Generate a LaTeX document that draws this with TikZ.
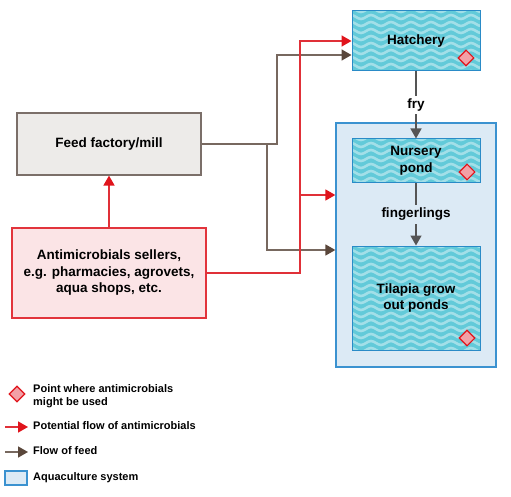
\documentclass[tikz,border=0pt]{standalone}
\usepackage{fontspec}
\setmainfont{Liberation Sans}
\usetikzlibrary{arrows.meta,shapes.geometric}

\definecolor{feedfill}{HTML}{EDEBE9}
\definecolor{feedline}{HTML}{7B6F69}
\definecolor{sellfill}{HTML}{FBE4E6}
\definecolor{sellline}{HTML}{E2343C}
\definecolor{aquafill}{HTML}{DCEAF5}
\definecolor{aqualine}{HTML}{3B92D0}
\definecolor{pondfill}{HTML}{62CAD9}
\definecolor{wavecol}{HTML}{A2DFE8}
\definecolor{pondline}{HTML}{2A8BC7}
\definecolor{amred}{HTML}{E0141C}
\definecolor{amline}{HTML}{E03038}
\definecolor{feedbrown}{HTML}{77685F}
\definecolor{feedhead}{HTML}{5A473B}
\definecolor{stagegray}{HTML}{555555}
\definecolor{markfill}{HTML}{F2A0A6}

\begin{document}
\begin{tikzpicture}[x=1pt,y=-1pt,font=\bfseries\fontsize{13.5}{16.5}\selectfont,
    pond/.style={draw=pondline,line width=1pt,fill=pondfill,align=center,
      minimum width=128pt,inner sep=0pt,
      path picture={
        \foreach \k in {0,...,16}
          \draw[wavecol,line width=2.6pt]
            ([xshift=-6pt,yshift=-\k*7pt+1pt]path picture bounding box.north west)
            \foreach \i in {1,...,8}{ sin ++(5pt,2pt) cos ++(5pt,-2pt) sin ++(5pt,-2pt) cos ++(5pt,2pt) };
      }},
    usemark/.style={diamond,draw=amred,fill=markfill,line width=1.1pt,minimum size=16pt,inner sep=0pt},
    legendtext/.style={anchor=west,align=left,font=\bfseries\fontsize{11}{13}\selectfont,inner sep=0pt}]
  \useasboundingbox (0,0) rectangle (511,497);

  % system background
  \node[draw=aqualine,fill=aquafill,line width=1.3pt,minimum width=160pt,minimum height=244pt] (aqua) at (416,245) {};

  % boxes
  \node[draw=feedline,fill=feedfill,line width=1.2pt,minimum width=184pt,minimum height=62pt] (feed) at (109,144) {Feed factory/mill};
  \node[draw=sellline,fill=sellfill,line width=1.2pt,minimum width=194pt,minimum height=90pt,align=center] (sellers) at (109,273)
    {Antimicrobials sellers,\\e.g. pharmacies, agrovets,\\aqua shops, etc.};
  \node[pond,minimum height=60pt] (hatch) at (416,41) {Hatchery};
  \node[pond,minimum height=44pt] (nursery) at (416,161) {Nursery\\pond};
  \node[pond,minimum height=104pt] (grow) at (416,298) {Tilapia grow\\out ponds};

  % markers
  \node[usemark] (m1) at (466,58) {};
  \node[usemark] (m2) at (467,172) {};
  \node[usemark] (m3) at (467,338) {};

  % corners
  \coordinate (fturn) at (277,144);
  \coordinate (fsplit) at (267,144);
  \coordinate (rturn) at (300,41);
  \coordinate (rsplit) at (300,195);

  % flow of feed
  \begin{scope}[feedbrown,line width=1.6pt,>={Triangle[length=10pt,width=11pt,color=feedhead]}]
    \draw[->] (feed.east) -- (fturn) |- ([yshift=-14pt]hatch.west);
    \draw[->] (fsplit) |- ([yshift=-5pt]aqua.west);
  \end{scope}

  % flow of antimicrobials
  \begin{scope}[amline,line width=1.6pt,>={Triangle[length=10pt,width=11pt,color=amred]}]
    \draw[->] (sellers.north) -- (feed.south);
    \draw[->] (sellers.east) -| (rturn) -- (hatch.west);
    \draw[->] (rsplit) -- ([yshift=50pt]aqua.west);
  \end{scope}

  % fish stages
  \begin{scope}[stagegray,line width=1.4pt,>={Triangle[length=10pt,width=11pt]}]
    \draw[->] (hatch.south) -- node[fill=white,text=black,inner sep=3pt] (fry) {fry} (nursery.north);
    \draw[->] (nursery.south) -- node[fill=aquafill,text=black,inner sep=3pt] (fing) {fingerlings} (grow.north);
  \end{scope}

  % legend
  \node[usemark] (lmark) at (17,394) {};
  \node[legendtext] (lt1) at (33,396) {Point where antimicrobials\\might be used};
  \coordinate (lr1) at (5,427);
  \coordinate (lr2) at (28,427);
  \coordinate (lb1) at (5,452);
  \coordinate (lb2) at (28,452);
  \draw[amline,line width=1.6pt,-{Triangle[length=10pt,width=11pt,color=amred]}] (lr1) -- (lr2);
  \node[legendtext] (lt2) at (33,426) {Potential flow of antimicrobials};
  \draw[feedbrown,line width=1.6pt,-{Triangle[length=10pt,width=11pt,color=feedhead]}] (lb1) -- (lb2);
  \node[legendtext] (lt3) at (33,451) {Flow of feed};
  \node[draw=aqualine,fill=aquafill,line width=1.3pt,minimum width=22pt,minimum height=14pt,inner sep=0pt] (lbox) at (16,478) {};
  \node[legendtext] (lt4) at (33,478) {Aquaculture system};
\end{tikzpicture}
\end{document}
